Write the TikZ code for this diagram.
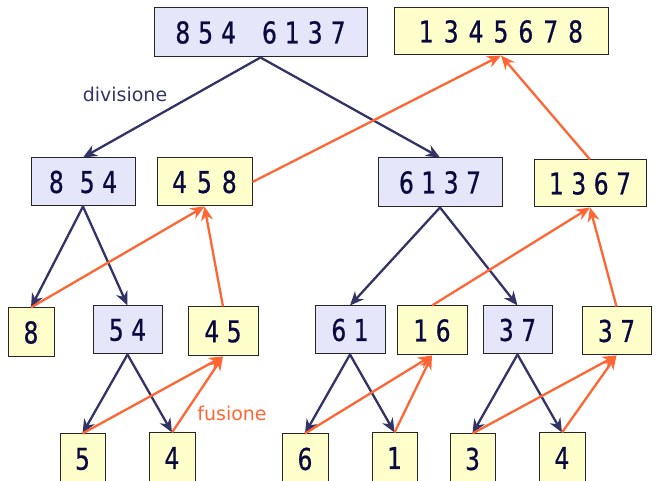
\documentclass[tikz,border=0pt]{standalone}
\usepackage{fontspec}
\setmainfont{DejaVu Sans}
\newfontfamily\digfont[FakeStretch=0.78,FakeBold=0.6]{DejaVu Sans}
\usetikzlibrary{arrows.meta}
\definecolor{navy}{HTML}{333366}
\definecolor{ink}{HTML}{0A0A40}
\definecolor{org}{HTML}{FF6633}
\definecolor{lblue}{HTML}{E6E6FA}
\definecolor{lyel}{HTML}{FFFFCC}
\newcommand{\digsp}{\spaceskip=7.5pt plus 1pt\relax}
\newcommand{\topsp}{\spaceskip=8pt plus 1pt\relax}
\newcommand{\ressp}{\spaceskip=10pt plus 1pt\relax}
\tikzset{
  box/.style={draw=black!85, line width=1pt, inner sep=0pt, text=ink,
    font=\digfont\fontsize{30}{34}\selectfont, execute at begin node=\digsp},
  bbox/.style={box, fill=lblue},
  ybox/.style={box, fill=lyel},
  topbox/.style={bbox, execute at begin node=\topsp},
  resbox/.style={ybox, execute at begin node=\ressp},
  div/.style={draw=navy, line width=2.3pt, -{Stealth[length=14pt,width=12pt]}},
  fus/.style={draw=org, line width=2.3pt, -{Stealth[length=14pt,width=12pt]}},
}
\begin{document}
\begin{tikzpicture}[x=1pt,y=-1pt]
\useasboundingbox (0,0) rectangle (657,481);
\begin{scope}
\clip (0,0) rectangle (657,481);
% row 1
\node[topbox, minimum width=213pt, minimum height=49pt] (top) at (260.5,32.5) {8 5 4\hspace{26pt}6 1 3 7};
\node[resbox, minimum width=214pt, minimum height=47pt] (res) at (501,31.5) {1 3 4 5 6 7 8};
% row 2
\node[bbox, minimum width=104pt, minimum height=48pt] (a854) at (83,182) {8\hspace{16pt}5 4};
\node[ybox, minimum width=95pt, minimum height=48pt] (r458) at (204.5,182) {\spaceskip=10pt\relax 4 5 8};
\node[bbox, minimum width=124pt, minimum height=49pt] (a6137) at (440,182.5) {6 1 3 7};
\node[ybox, minimum width=112pt, minimum height=47pt] (r1367) at (590,183.5) {1 3 6 7};
% row 3
\node[ybox, minimum width=46pt, minimum height=49pt] (n8) at (31,332.5) {8};
\node[bbox, minimum width=69pt, minimum height=48pt] (a54) at (127.5,330) {5 4};
\node[ybox, minimum width=70pt, minimum height=49pt] (r45) at (223,331.5) {4 5};
\node[bbox, minimum width=70pt, minimum height=48pt] (a61) at (350,330) {6 1};
\node[ybox, minimum width=70pt, minimum height=49pt] (r16) at (432,330.5) {1 6};
\node[bbox, minimum width=69pt, minimum height=48pt] (a37) at (517.5,330) {3 7};
\node[ybox, minimum width=69pt, minimum height=48pt] (r37) at (616.5,331) {3 7};
% row 4
\node[ybox, minimum width=45pt, minimum height=50pt] (b5) at (82.5,459) {5};
\node[ybox, minimum width=46pt, minimum height=50pt] (b4) at (172,458) {4};
\node[ybox, minimum width=46pt, minimum height=50pt] (b6) at (305,459) {6};
\node[ybox, minimum width=45pt, minimum height=50pt] (b1) at (394.5,458) {1};
\node[ybox, minimum width=45pt, minimum height=50pt] (b3) at (472.5,459) {3};
\node[ybox, minimum width=46pt, minimum height=50pt] (b4b) at (562,458) {4};
\end{scope}
% labels
\node[text=navy, font=\fontsize{19}{22}\selectfont] (ldiv) at (125,94) {divisione};
\node[text=org, font=\fontsize{19}{22}\selectfont] (lfus) at (232,413) {fusione};
% division arrows
\draw[div] (top.south) -- (a854.north);
\draw[div] (top.south) -- (a6137.north);
\draw[div] (a854.south) -- (n8.north);
\draw[div] (a854.south) -- (a54.north);
\draw[div] (a54.south) -- (b5.north);
\draw[div] (a54.south) -- (b4.north);
\draw[div] (a6137.south) -- (a61.north);
\draw[div] (a6137.south) -- (a37.north);
\draw[div] (a61.south) -- (b6.north);
\draw[div] (a61.south) -- (b1.north);
\draw[div] (a37.south) -- (b3.north);
\draw[div] (a37.south) -- (b4b.north);
% fusion arrows
\draw[fus] (b5.north) -- (r45.south);
\draw[fus] (b4.north) -- (r45.south);
\draw[fus] (n8.north) -- (r458.south);
\draw[fus] (r45.north) -- (r458.south);
\draw[fus] (r458.east) -- (res.south);
\draw[fus] (b6.north) -- (r16.south);
\draw[fus] (b1.north) -- (r16.south);
\draw[fus] (b3.north) -- (r37.south);
\draw[fus] (b4b.north) -- (r37.south);
\draw[fus] (r16.north) -- (r1367.south);
\draw[fus] (r37.north) -- (r1367.south);
\draw[fus] (r1367.north) -- (res.south);
\end{tikzpicture}
\end{document}
